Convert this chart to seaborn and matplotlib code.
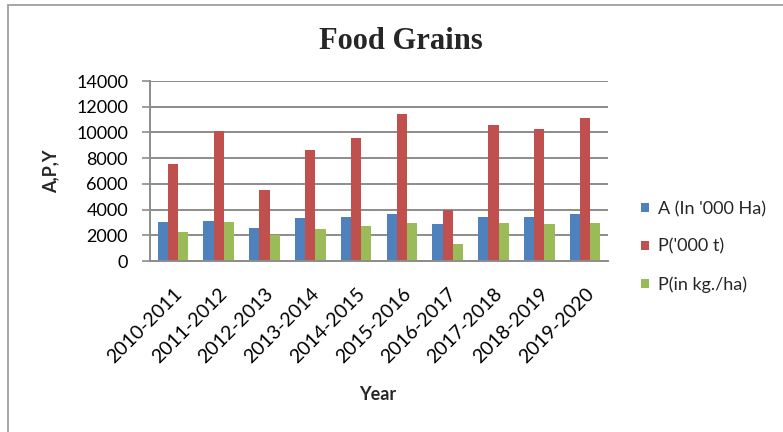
import matplotlib
matplotlib.use("Agg")
import matplotlib.pyplot as plt
import matplotlib.transforms as mtransforms
import seaborn as sns
import pandas as pd
from matplotlib.patches import Rectangle

years = ["2010-2011", "2011-2012", "2012-2013", "2013-2014", "2014-2015",
         "2015-2016", "2016-2017", "2017-2018", "2018-2019", "2019-2020"]
area = [3040, 3140, 2590, 3350, 3450, 3630, 2880, 3450, 3450, 3630]
production = [7520, 10120, 5550, 8660, 9550, 11470, 4000, 10610, 10300, 11150]
yield_ = [2280, 3040, 2020, 2490, 2700, 2960, 1350, 2960, 2880, 2960]
series_names = ["A (In '000 Ha)", "P('000 t)", "P(in kg./ha)"]
colors = ["#4F81BD", "#C0504D", "#9BBB59"]
yticks = [0, 2000, 4000, 6000, 8000, 10000, 12000, 14000]

rows = []
for name, vals in zip(series_names, [area, production, yield_]):
    for y, v in zip(years, vals):
        rows.append({"Year": y, "Value": v, "Series": name})
df = pd.DataFrame(rows)

sns.set_theme(style="white")
plt.rcParams["font.family"] = ["Lato", "DejaVu Sans"]

W, H = 783, 432
fig = plt.figure(figsize=(W / 100, H / 100), dpi=100)
ax = fig.add_axes([150 / W, 1 - 261 / H, 458 / W, 180 / H])

sns.barplot(data=df, x="Year", y="Value", hue="Series", palette=colors,
            width=0.67, gap=0, dodge=True, ax=ax, saturation=1,
            edgecolor="none", linewidth=0, errorbar=None, legend=True)

grid_c = "#8C8C8C"
ax.set_ylim(0, 14000)
ax.set_xlim(-0.5, len(years) - 0.5)
ax.set_yticks(yticks)
ax.set_yticklabels([str(t) for t in yticks], fontsize=13, color="black")
ax.yaxis.grid(True, color=grid_c, linewidth=1.4)
ax.set_axisbelow(True)
for s in ["top", "right"]:
    ax.spines[s].set_visible(False)
for s in ["left", "bottom"]:
    ax.spines[s].set_color(grid_c)
    ax.spines[s].set_linewidth(1.4)
ax.tick_params(axis="y", which="major", direction="out", length=5.8,
               width=1.2, color=grid_c, pad=10, left=True)
ax.tick_params(axis="x", length=0, pad=17)
ax.set_xticks(range(len(years)))
ax.set_xticklabels(years, rotation=45, ha="right", fontsize=14, color="black",
                   rotation_mode="default")
offset = mtransforms.ScaledTranslation(12 / 100, 0, fig.dpi_scale_trans)
for lab in ax.get_xticklabels():
    lab.set_transform(lab.get_transform() + offset)
ax.set_xlabel("")
ax.set_ylabel("")

leg = ax.legend(loc="center left", bbox_to_anchor=(641 / W, 1 - 247 / H),
                bbox_transform=fig.transFigure, frameon=False, fontsize=13,
                handlelength=0.45, handleheight=0.45, handletextpad=0.5,
                labelspacing=1.2, borderpad=0, borderaxespad=0)

fig.text(401 / W, 1 - 49 / H, "Food Grains", ha="center", va="baseline",
         fontsize=22, fontweight="bold", family=["Liberation Serif"])
fig.text(378 / W, 1 - 400 / H, "Year", ha="center", va="baseline",
         fontsize=13, fontweight="bold")
fig.text(51 / W, 1 - 171 / H, "A,P,Y", ha="center", va="center",
         rotation=90, fontsize=13, fontweight="bold")

fig.patches.append(Rectangle((8 / W, -0.1), 1.2, 1.1 - 5 / H,
                             transform=fig.transFigure, fill=False,
                             edgecolor="#A6A6A6", linewidth=1.4))

fig.savefig("out.png", dpi=100)
